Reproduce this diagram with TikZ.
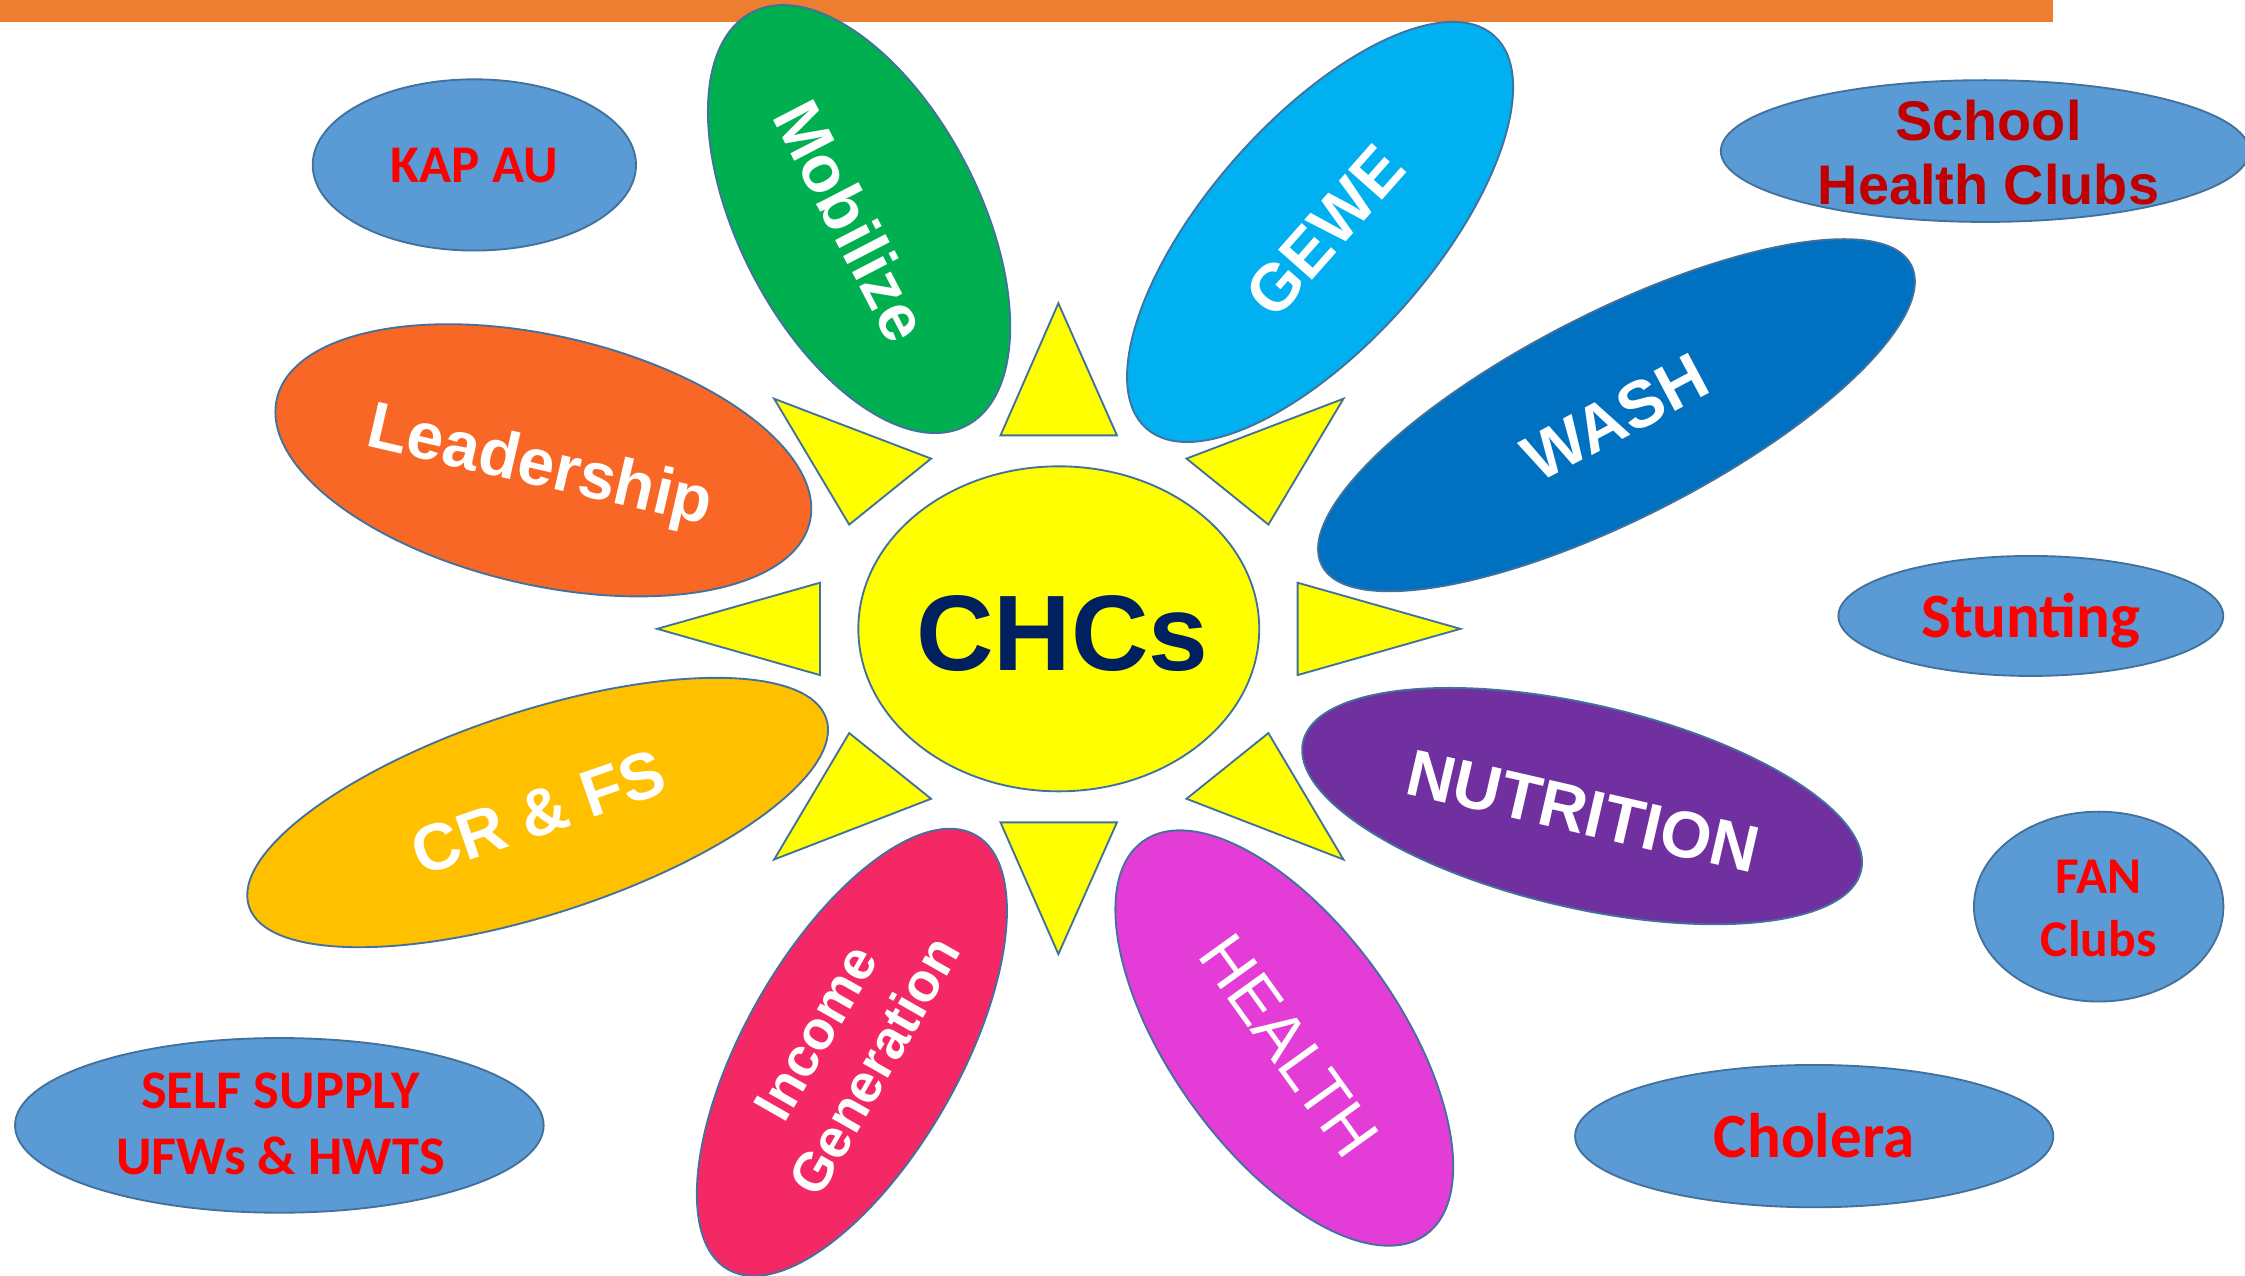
\documentclass[tikz,border=0pt]{standalone}
\usepackage{fontspec}
\usetikzlibrary{shapes.geometric}
\newfontfamily\arfont{Liberation Sans}
\newfontfamily\califont{Carlito}
\definecolor{barorange}{HTML}{ED7D31}
\definecolor{edgeblue}{HTML}{41719C}
\definecolor{ovalblue}{HTML}{5B9BD5}
\definecolor{sunyellow}{HTML}{FFFF00}
\definecolor{navy}{HTML}{002060}
\definecolor{darkred}{HTML}{C00000}
\definecolor{brightred}{HTML}{FF0000}
\definecolor{cmob}{HTML}{00B050}
\definecolor{cgewe}{HTML}{00B0F0}
\definecolor{cwash}{HTML}{0070C0}
\definecolor{clead}{HTML}{F96726}
\definecolor{ccrfs}{HTML}{FFC000}
\definecolor{cnutr}{HTML}{7030A0}
\definecolor{chealth}{HTML}{E33CD7}
\definecolor{cincome}{HTML}{F52866}
\tikzset{
  petal/.style={ellipse, draw=edgeblue, line width=1.3pt, inner sep=0pt},
  ray/.style={draw=edgeblue, fill=sunyellow, line width=1.3pt, line join=miter},
  oval/.style={ellipse, draw=edgeblue, fill=ovalblue, line width=1.3pt, inner sep=0pt},
  ptext/.style={text=white, inner sep=0pt, text depth=0pt, text height=32.9pt,
    font=\arfont\bfseries\fontsize{46}{52}\selectfont},
  otext/.style={text=brightred, inner sep=0pt, text depth=0pt, align=center},
}
\begin{document}
\begin{tikzpicture}[x=1pt,y=1pt]
\useasboundingbox (0,0) rectangle (1568,-891);
\fill[white] (0,0) rectangle (1568,-891);
% top bar
\node[rectangle, fill=barorange, inner sep=0pt, minimum width=1434pt, minimum height=15.4pt, anchor=north west] (bar) at (0,0) {};
% petals
\node[petal, fill=cmob, minimum width=325.2pt, minimum height=167.8pt, rotate=-62.6] (mob) at (600,-153) {};
\node[petal, fill=cgewe, minimum width=366.4pt, minimum height=156.6pt, rotate=48.5] (gewe) at (922,-162) {};
\node[petal, fill=cwash, minimum width=462pt, minimum height=144pt, rotate=27] (wash) at (1129,-290) {};
\node[petal, fill=clead, minimum width=382pt, minimum height=174pt, rotate=-13] (lead) at (379.5,-321.5) {};
\node[petal, fill=ccrfs, minimum width=424pt, minimum height=142pt, rotate=18] (crfs) at (375.5,-567.5) {};
\node[petal, fill=cnutr, minimum width=400pt, minimum height=142pt, rotate=-13] (nutr) at (1105,-563) {};
\node[petal, fill=chealth, minimum width=338.4pt, minimum height=159pt, rotate=-54.3] (health) at (897,-725) {};
\node[petal, fill=cincome, minimum width=349.2pt, minimum height=150pt, rotate=60.3] (income) at (595,-735) {};
% rays
\draw[ray] (739.2,-211.8) -- (698.8,-304.1) -- (780.1,-304.1) -- cycle;
\draw[ray] (938.3,-278.5) -- (828.7,-320.3) -- (885.9,-366.4) -- cycle;
\draw[ray] (1020,-439.2) -- (906.3,-407) -- (906.3,-471.5) -- cycle;
\draw[ray] (938.3,-600.3) -- (828.7,-557.9) -- (885.9,-512) -- cycle;
\draw[ray] (739.2,-666.4) -- (698.8,-574.4) -- (780.1,-574.4) -- cycle;
\draw[ray] (540.7,-600.3) -- (650.3,-557.9) -- (593.1,-512) -- cycle;
\draw[ray] (459,-439.2) -- (572.7,-407) -- (572.7,-471.5) -- cycle;
\draw[ray] (540.7,-278.5) -- (650.3,-320.3) -- (593.1,-366.4) -- cycle;
% centre
\node[ellipse, draw=edgeblue, fill=sunyellow, line width=1.3pt, inner sep=0pt, minimum width=280pt, minimum height=227pt] (chc) at (739.5,-439.2) {};
\node[text=navy, inner sep=0pt, text depth=0pt, text height=53.7pt, font=\arfont\bfseries\fontsize{75}{80}\selectfont] (chct) at (742,-441.5) {CHCs};
% petal labels
\node[ptext, rotate=-62.6] (mobt) at (595,-154) {Mobilize};
\node[ptext, rotate=48.5] (gewet) at (925,-161) {GEWE};
\node[ptext, rotate=28] (washt) at (1128,-291) {WASH};
\node[ptext, rotate=-13] (leadt) at (378,-323) {Leadership};
\node[ptext, rotate=19] (crfst) at (376,-567) {CR \& FS};
\node[ptext, rotate=-13] (nutrt) at (1106,-566) {NUTRITION};
\node[ptext, rotate=-54.3, font=\arfont\fontsize{46}{52}\selectfont] (healtht) at (901,-730) {HEALTH};
\node[ptext, rotate=60.3, align=center, anchor=base, font=\arfont\bfseries\fontsize{38}{47}\selectfont] (incomet) at (622,-751) {Income\\Generation};
% blue ovals
\node[oval, minimum width=225.8pt, minimum height=119.6pt] (kap) at (331.3,-115.2) {};
\node[oval, minimum width=369pt, minimum height=99pt] (school) at (1386.4,-105.5) {};
\node[oval, minimum width=268.8pt, minimum height=83.8pt] (stunt) at (1418.4,-430.2) {};
\node[oval, minimum width=174.2pt, minimum height=132.6pt] (fan) at (1465.8,-633.2) {};
\node[oval, minimum width=334pt, minimum height=99.4pt] (chol) at (1267.1,-793.5) {};
\node[oval, minimum width=369.2pt, minimum height=122pt] (self) at (195.1,-786) {};
% oval labels
\node[otext, text height=23.8pt, font=\califont\bfseries\fontsize{37}{44}\selectfont] (kapt) at (331.3,-115.8) {KAP AU};
\node[otext, text=darkred, anchor=base, font=\arfont\bfseries\fontsize{39}{45}\selectfont] (schoolt) at (1388.8,-143) {School\\Health Clubs};
\node[otext, text height=28.3pt, font=\califont\bfseries\fontsize{44}{52}\selectfont] (stuntt) at (1418.4,-431.3) {Stunting};
\node[otext, anchor=base, font=\califont\bfseries\fontsize{36}{44.2}\selectfont] (fant) at (1465.8,-668.2) {FAN\\Clubs};
\node[otext, text height=28.3pt, font=\califont\bfseries\fontsize{44}{52}\selectfont] (cholt) at (1267,-794) {Cholera};
\node[otext, anchor=base, font=\califont\bfseries\fontsize{38}{46}\selectfont] (selft) at (195.8,-820) {SELF SUPPLY\\UFWs \& HWTS};
\end{tikzpicture}
\end{document}
